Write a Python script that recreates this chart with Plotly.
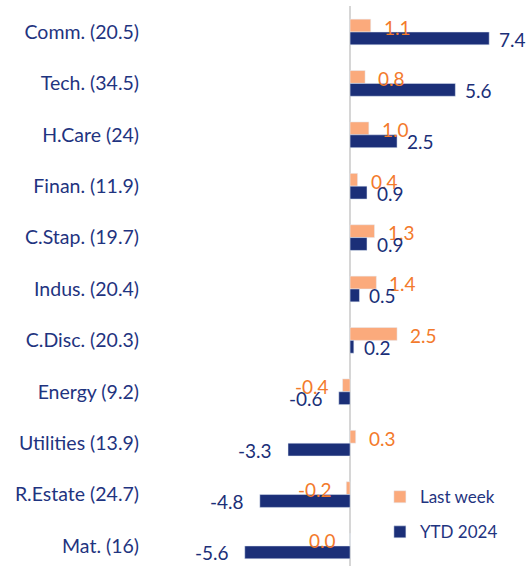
import plotly.graph_objects as go

categories = ["Comm. (20.5)", "Tech. (34.5)", "H.Care (24)", "Finan. (11.9)", "C.Stap. (19.7)",
              "Indus. (20.4)", "C.Disc. (20.3)", "Energy (9.2)", "Utilities (13.9)",
              "R.Estate (24.7)", "Mat. (16)"]
last_week = [1.1, 0.8, 1.0, 0.4, 1.3, 1.4, 2.5, -0.4, 0.3, -0.2, 0.0]
ytd_2024 = [7.4, 5.6, 2.5, 0.9, 0.9, 0.5, 0.2, -0.6, -3.3, -4.8, -5.6]

ORANGE_BAR = "#FBAA7C"
ORANGE_TXT = "#F37A2C"
NAVY = "#1B2F78"
TXT = "#1F3480"
FONT = "Lato, Open Sans, sans-serif"

fig = go.Figure()
fig.add_trace(go.Bar(y=categories, x=last_week, orientation="h", name="Last week",
                     marker_color=ORANGE_BAR, legendgroup="a"))
fig.add_trace(go.Bar(y=categories, x=ytd_2024, orientation="h", name="YTD 2024",
                     marker_color=NAVY, legendgroup="b"))

annotations = []
for cat, v in zip(categories, last_week):
    pos = v > 0
    annotations.append(dict(x=v, y=cat, xref="x", yref="y", text=f"{v:.1f}", showarrow=False,
                            xanchor="left" if pos else "right", xshift=11 if pos else -12,
                            yshift=5, font=dict(color=ORANGE_TXT, size=19, family=FONT)))
for cat, v in zip(categories, ytd_2024):
    pos = v > 0
    annotations.append(dict(x=v, y=cat, xref="x", yref="y", text=f"{v:.1f}", showarrow=False,
                            xanchor="left" if pos else "right", xshift=8 if pos else -14,
                            yshift=-7, font=dict(color=NAVY, size=19, family=FONT)))

fig.update_layout(
    width=530, height=566,
    margin=dict(l=150, r=0, t=6, b=0),
    paper_bgcolor="white", plot_bgcolor="white",
    barmode="group", bargap=0.5, bargroupgap=0,
    font=dict(family=FONT, color=TXT, size=19),
    annotations=annotations,
    legend=dict(x=0.605, y=0.155, xanchor="left", yanchor="top",
                font=dict(size=17, color=TXT, family=FONT),
                traceorder="grouped", tracegroupgap=10, bgcolor="rgba(0,0,0,0)"),
    xaxis=dict(range=[-10.64, 9.57], showgrid=False, showticklabels=False, ticks="",
               zeroline=True, zerolinecolor="#D6D6D6", zerolinewidth=2),
    yaxis=dict(type="category", range=[10.39, -0.506], showgrid=False, ticks="",
               ticksuffix="  ", tickfont=dict(size=19.5, color=TXT, family=FONT)),
)

fig.write_html("out.html")
